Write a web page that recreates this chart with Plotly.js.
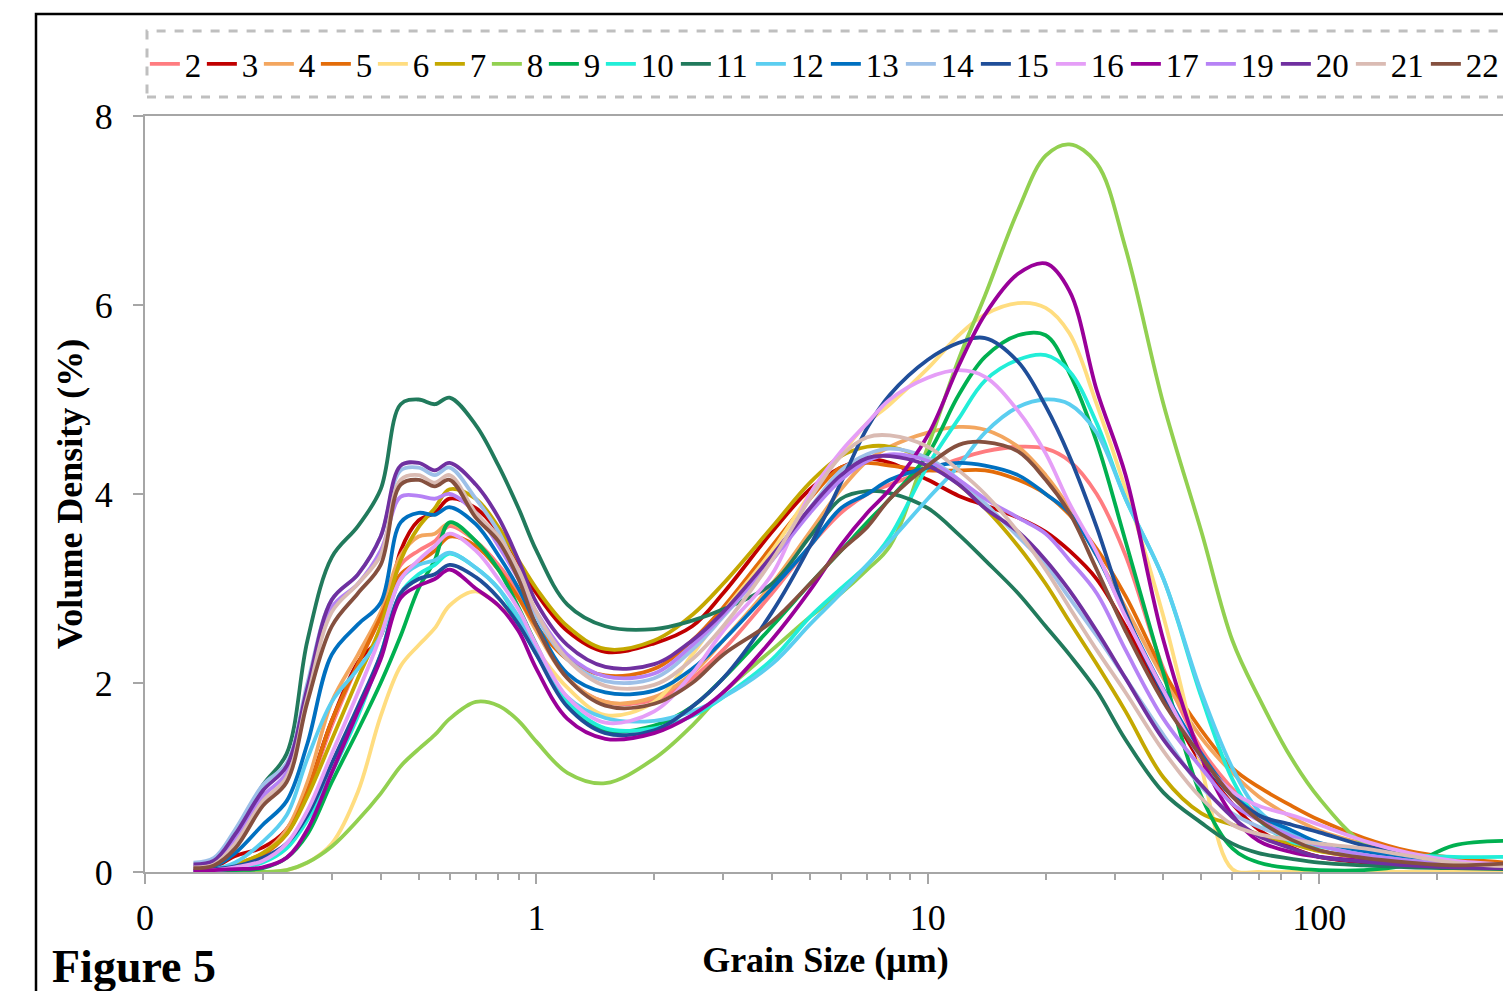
<!DOCTYPE html>
<html>
<head>
<meta charset="utf-8">
<script src="https://cdn.plot.ly/plotly-3.0.1.min.js"></script>
<style>
html,body{margin:0;padding:0;overflow:hidden;background:#fff;}
#wrap{width:1503px;height:991px;overflow:hidden;position:relative;}
#chart{width:1900px;height:991px;}
</style>
</head>
<body>
<div id="wrap"><div id="chart"></div></div>
<script>
// Grain size grid (µm)
const grainSize = [0.133, 0.15, 0.17, 0.2, 0.23, 0.26, 0.3, 0.35, 0.4, 0.45, 0.5, 0.55, 0.6, 0.7, 0.8, 0.9, 1, 1.2, 1.5, 2, 2.5, 3, 4, 5, 6, 7, 8, 10, 12, 14, 17, 20, 23, 27, 32, 40, 50, 60, 70, 85, 100, 130, 170, 220, 300];

const seriesNames = ['2','3','4','5','6','7','8','9','10','11','12','13','14','15','16','17','19','20','21','22'];
const seriesColors = ['#FF7C80','#C00000','#F3A65F','#E36C09','#FFDD80','#C4A800','#92D050','#00B050','#22EED8','#217A5C','#5BCEF0','#0070C0','#9DC0E8','#1F4E99','#E59EF7','#990099','#B682F5','#7030A0','#DABBB3','#85503F'];

const s2  = [0.02,0.03,0.08,0.2,0.45,0.85,1.55,2.2,2.7,3.25,3.4,3.5,3.66,3.5,3.25,2.95,2.6,2.05,1.8,1.82,2.05,2.35,2.95,3.45,3.8,4.0,4.1,4.25,4.37,4.45,4.5,4.48,4.35,4.0,3.35,2.15,1.3,0.88,0.6,0.38,0.23,0.15,0.1,0.07,0.05];
const s3  = [0.03,0.05,0.17,0.26,0.45,0.88,1.6,2.22,2.5,3.4,3.72,3.8,3.95,3.85,3.6,3.25,2.95,2.55,2.33,2.42,2.6,2.95,3.6,4.05,4.28,4.37,4.33,4.15,3.98,3.88,3.75,3.6,3.4,3.1,2.6,1.85,1.15,0.72,0.45,0.26,0.16,0.1,0.07,0.05,0.04];
const s4  = [0.02,0.03,0.08,0.2,0.45,0.95,1.8,2.3,2.75,3.35,3.55,3.58,3.69,3.5,3.2,2.9,2.55,2.05,1.8,1.85,2.1,2.45,3.05,3.6,4.05,4.35,4.5,4.65,4.71,4.68,4.5,4.2,3.85,3.35,2.8,2.05,1.42,1.05,0.8,0.58,0.44,0.3,0.2,0.12,0.08];
const s5  = [0.02,0.03,0.07,0.18,0.4,0.85,1.6,2.2,2.7,3.15,3.28,3.4,3.55,3.45,3.2,2.9,2.6,2.25,2.08,2.15,2.45,2.8,3.45,3.95,4.28,4.33,4.3,4.25,4.25,4.25,4.15,4.0,3.78,3.42,2.92,2.12,1.5,1.1,0.9,0.7,0.55,0.36,0.22,0.15,0.1];
const s6  = [0,0,0,0,0.02,0.1,0.3,0.85,1.65,2.18,2.4,2.58,2.82,2.97,2.82,2.6,2.35,1.95,1.66,1.8,2.3,2.75,3.4,4.0,4.42,4.75,4.95,5.33,5.68,5.9,6.02,5.97,5.7,4.95,4.05,2.7,1.1,0.03,0,0,0,0,0,0,0];
const s7  = [0.02,0.03,0.08,0.2,0.4,0.8,1.4,2.05,2.6,3.3,3.65,3.85,4.05,3.95,3.65,3.3,3.0,2.6,2.36,2.45,2.72,3.05,3.65,4.12,4.4,4.5,4.5,4.35,4.1,3.85,3.45,3.05,2.65,2.2,1.7,1.0,0.62,0.5,0.4,0.3,0.22,0.15,0.1,0.07,0.05];
const s8  = [0,0,0,0,0.02,0.1,0.27,0.55,0.83,1.12,1.3,1.45,1.62,1.8,1.76,1.6,1.38,1.05,0.94,1.2,1.55,1.9,2.35,2.7,2.95,3.2,3.45,4.5,5.43,6.1,7.0,7.58,7.7,7.5,6.6,4.95,3.6,2.45,1.85,1.2,0.78,0.3,0.12,0.06,0.04];
const s9  = [0.01,0.01,0.02,0.04,0.15,0.4,0.95,1.5,2.0,2.5,3.0,3.3,3.7,3.5,3.2,2.8,2.4,1.8,1.5,1.55,1.75,2.05,2.6,3.05,3.4,3.7,3.95,4.42,5.05,5.45,5.68,5.68,5.28,4.55,3.5,2.1,0.8,0.25,0.1,0.04,0.02,0.02,0.08,0.28,0.33];
const s10 = [0.02,0.02,0.04,0.1,0.25,0.55,1.05,1.65,2.3,2.95,3.15,3.25,3.37,3.22,3.0,2.65,2.3,1.8,1.52,1.52,1.65,1.85,2.25,2.7,3.0,3.25,3.55,4.3,4.8,5.2,5.42,5.47,5.3,4.75,3.95,3.1,1.85,0.98,0.55,0.32,0.27,0.22,0.18,0.16,0.16];
const s11 = [0.03,0.1,0.4,0.92,1.25,2.45,3.33,3.66,4.05,4.95,5.0,4.95,5.02,4.73,4.3,3.85,3.4,2.83,2.6,2.57,2.66,2.78,3.05,3.55,3.95,4.03,4.01,3.85,3.57,3.3,2.95,2.6,2.3,1.92,1.4,0.84,0.52,0.3,0.2,0.14,0.1,0.07,0.05,0.04,0.03];
const s12 = [0.02,0.03,0.1,0.32,0.6,1.2,1.8,2.15,2.5,3.1,3.25,3.3,3.38,3.22,3.0,2.7,2.35,1.85,1.63,1.6,1.7,1.85,2.2,2.62,2.95,3.25,3.5,3.95,4.3,4.65,4.92,5.0,4.95,4.65,3.95,3.1,1.9,1.1,0.65,0.4,0.28,0.18,0.12,0.08,0.06];
const s13 = [0.03,0.06,0.2,0.5,0.75,1.36,2.3,2.62,2.85,3.7,3.8,3.78,3.86,3.68,3.35,3.0,2.62,2.1,1.9,1.92,2.15,2.45,3.0,3.45,3.85,4.0,4.15,4.28,4.33,4.3,4.2,4.0,3.8,3.35,2.72,1.93,1.25,0.82,0.6,0.44,0.31,0.22,0.15,0.1,0.07];
const s14 = [0.1,0.15,0.45,0.92,1.15,2.0,2.88,3.15,3.55,4.25,4.28,4.2,4.28,3.95,3.6,3.15,2.7,2.25,2.02,2.05,2.35,2.7,3.3,3.85,4.25,4.42,4.48,4.38,4.15,3.9,3.55,3.25,2.9,2.5,2.05,1.45,0.9,0.62,0.48,0.36,0.28,0.18,0.12,0.08,0.05];
const s15 = [0.02,0.03,0.06,0.15,0.3,0.6,1.15,1.75,2.3,2.95,3.1,3.15,3.25,3.12,2.9,2.62,2.3,1.75,1.47,1.5,1.75,2.05,2.75,3.45,4.12,4.7,5.05,5.42,5.6,5.65,5.4,4.93,4.4,3.65,2.75,1.88,1.2,0.8,0.6,0.5,0.42,0.28,0.18,0.1,0.06];
const s16 = [0.02,0.02,0.05,0.12,0.3,0.65,1.25,1.9,2.5,3.1,3.3,3.45,3.58,3.4,3.1,2.78,2.4,1.85,1.58,1.7,2.1,2.55,3.15,4.0,4.45,4.75,5.0,5.23,5.31,5.24,4.88,4.43,3.9,3.38,2.7,1.92,1.2,0.85,0.7,0.6,0.5,0.33,0.2,0.12,0.08];
const s17 = [0.02,0.02,0.03,0.05,0.15,0.45,1.05,1.7,2.25,2.9,3.03,3.1,3.2,3.0,2.82,2.55,2.15,1.62,1.41,1.47,1.66,1.9,2.46,2.98,3.46,3.8,4.05,4.62,5.36,5.9,6.33,6.44,6.15,5.1,4.2,2.45,1.22,0.6,0.33,0.21,0.16,0.12,0.08,0.06,0.05];
const s19 = [0.06,0.1,0.35,0.8,1.05,1.9,2.8,3.05,3.4,3.97,3.98,3.95,4.0,3.8,3.45,3.1,2.75,2.3,2.07,2.1,2.4,2.72,3.3,3.8,4.15,4.35,4.42,4.35,4.15,3.95,3.75,3.58,3.3,2.95,2.35,1.62,1.1,0.72,0.55,0.38,0.28,0.18,0.12,0.08,0.06];
const s20 = [0.08,0.12,0.4,0.86,1.12,1.95,2.88,3.15,3.55,4.3,4.33,4.25,4.33,4.1,3.75,3.3,2.85,2.4,2.17,2.2,2.45,2.75,3.35,3.85,4.2,4.38,4.4,4.3,4.1,3.85,3.6,3.3,2.98,2.55,2.05,1.4,0.92,0.58,0.38,0.25,0.16,0.11,0.07,0.05,0.04];
const s21 = [0.05,0.08,0.3,0.75,1.0,1.85,2.75,3.05,3.35,4.15,4.2,4.12,4.2,3.8,3.55,3.2,2.75,2.25,1.97,1.98,2.25,2.6,3.3,3.95,4.4,4.6,4.62,4.5,4.25,4.0,3.6,3.2,2.8,2.35,1.9,1.28,0.78,0.5,0.4,0.34,0.3,0.25,0.17,0.1,0.06];
const s22 = [0.04,0.07,0.25,0.7,0.95,1.8,2.6,2.95,3.25,4.1,4.15,4.08,4.15,3.75,3.5,3.1,2.6,2.05,1.76,1.78,2.0,2.3,2.65,3.05,3.4,3.65,3.95,4.3,4.52,4.55,4.45,4.15,3.8,3.2,2.55,1.8,1.22,0.8,0.55,0.34,0.23,0.15,0.1,0.07,0.09];

const seriesValues = [s2,s3,s4,s5,s6,s7,s8,s9,s10,s11,s12,s13,s14,s15,s16,s17,s19,s20,s21,s22];

const xTickVals = [0.1, 1, 10, 100];
const xTickText = ['0', '1', '10', '100'];
const yTickVals = [0, 2, 4, 6, 8];

const minorVals = [];
[0.1, 1, 10, 100].forEach(d => { for (let k = 2; k <= 9; k++) minorVals.push(+(k * d).toPrecision(3)); });

const legendFontSize = 33;
const traces = seriesNames.map((n, i) => ({
  type: 'scatter', mode: 'lines', name: n,
  x: grainSize, y: seriesValues[i],
  line: { color: seriesColors[i], width: 3.8, shape: 'spline', smoothing: 1 },
  legendwidth: n.length === 1 ? 12 : 30,
  hoverinfo: 'skip'
}));

const W = 1900;
const plotRight = 1506;
const plotW = plotRight - 145;
const plotH = 872 - 116;
const px = v => (v - 145) / plotW;
const py = v => (872 - v) / plotH;

const axisGrey = '#A6A6A6';
const fontFam = '"Liberation Serif", "Times New Roman", serif';

const layout = {
  width: W, height: 991,
  margin: { l: 145, r: W - plotRight, t: 116, b: 991 - 872, autoexpand: false },
  paper_bgcolor: '#ffffff', plot_bgcolor: '#ffffff',
  font: { family: fontFam, color: '#000' },
  showlegend: true,
  legend: {
    orientation: 'h', x: -0.0001, xanchor: 'left', y: py(64), yanchor: 'middle',
    font: { family: fontFam, size: legendFontSize, color: '#000' },
    bgcolor: 'rgba(0,0,0,0)', borderwidth: 0, traceorder: 'normal'
  },
  xaxis: {
    type: 'log', range: [-1, Math.log10(300)],
    tickmode: 'array', tickvals: xTickVals, ticktext: xTickText,
    ticks: 'outside', ticklen: 10, tickwidth: 2, tickcolor: axisGrey,
    showline: true, linecolor: axisGrey, linewidth: 2, mirror: true,
    showgrid: false, zeroline: false,
    tickfont: { family: fontFam, size: 36, color: '#000' },
    ticklabelstandoff: 3,
    minor: { tickmode: 'array', tickvals: minorVals, ticks: 'outside', ticklen: 6, tickwidth: 2, tickcolor: axisGrey, showgrid: false },
    title: { text: 'Grain Size (µm)', font: { family: fontFam, size: 36, weight: 'bold', color: '#000' }, standoff: 10 }
  },
  yaxis: {
    range: [0, 8], tickmode: 'array', tickvals: yTickVals,
    ticks: 'outside', ticklen: 10, tickwidth: 2, tickcolor: axisGrey,
    showline: true, linecolor: axisGrey, linewidth: 2, mirror: true,
    showgrid: false, zeroline: false,
    tickfont: { family: fontFam, size: 36, color: '#000' },
    ticklabelstandoff: 13,
    title: { text: 'Volume Density (%)', font: { family: fontFam, size: 36, weight: 'bold', color: '#000' }, standoff: 1 }
  },
  shapes: [
    { type: 'rect', xref: 'paper', yref: 'paper', x0: px(147), x1: 1.3, y0: py(97), y1: py(31),
      line: { color: '#BFBFBF', width: 3, dash: 'dash' }, fillcolor: 'rgba(0,0,0,0)', layer: 'below' },
    { type: 'rect', xref: 'paper', yref: 'paper', x0: px(36), x1: 1.5, y0: -0.5, y1: py(14),
      line: { color: '#000000', width: 2.5 }, fillcolor: 'rgba(0,0,0,0)', layer: 'above' }
  ],
  annotations: [
    { xref: 'paper', yref: 'paper', x: px(50), y: py(966), xanchor: 'left', yanchor: 'middle',
      text: 'Figure 5', showarrow: false,
      font: { family: fontFam, size: 46, weight: 'bold', color: '#000' } }
  ]
};

Plotly.newPlot('chart', traces, layout, { staticPlot: true, displayModeBar: false });
</script>
</body>
</html>
